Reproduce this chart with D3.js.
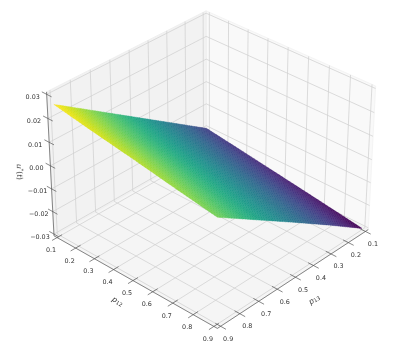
<!DOCTYPE html>
<html><head><meta charset="utf-8">
<style>html,body{margin:0;padding:0;background:#fff}svg{display:block}text{font-family:"DejaVu Sans",sans-serif;fill:#333}.txt{filter:grayscale(1)}</style>
<script src="https://cdn.jsdelivr.net/npm/d3@7"></script></head>
<body><svg id="c" width="396" height="348"></svg>
<script>
const p12Ticks=[0.1,0.2,0.3,0.4,0.5,0.6,0.7,0.8,0.9];
const p13Ticks=[0.1,0.2,0.3,0.4,0.5,0.6,0.7,0.8,0.9];
const zTicks=[-0.03,-0.02,-0.01,0,0.01,0.02,0.03];
const gridP12=[0.1,0.3,0.5,0.7,0.9];
const gridP13=[0.1,0.3,0.5,0.7,0.9];
const gridZ=[
 [-0.0198,-0.0084,0.0030,0.0144,0.0258],
 [-0.0223,-0.0111,0.0001,0.0112,0.0228],
 [-0.0249,-0.0138,-0.0024,0.0087,0.0200],
 [-0.0275,-0.0163,-0.0051,0.0060,0.0170],
 [-0.0302,-0.0188,-0.0077,0.0032,0.0141]];

const elev=32.6*Math.PI/180, azim=43*Math.PI/180, dist=10;
const bx=1.143, bz=0.857;
const sx=d3.scaleLinear().domain([0.0833,0.9167]).range([0,bx]);
const sy=d3.scaleLinear().domain([0.0833,0.9167]).range([0,bx]);
const sz=d3.scaleLinear().domain([-0.0308,0.0310]).range([0,bz]);
const px=d3.scaleLinear().domain([0,1]).range([211.5,211.5+1990]);
const py=d3.scaleLinear().domain([0,1]).range([162.5,162.5-1990]);
const u=[-Math.sin(azim),Math.cos(azim),0];
const v=[-Math.sin(elev)*Math.cos(azim),-Math.sin(elev)*Math.sin(azim),Math.cos(elev)];
const w=[Math.cos(elev)*Math.cos(azim),Math.cos(elev)*Math.sin(azim),Math.sin(elev)];
const dot=(a,b)=>a[0]*b[0]+a[1]*b[1]+a[2]*b[2];
function proj(p13,p12,z,dOffX=0,dOffY=0){
  const q=[sx(p13)+dOffX-bx/2,sy(p12)+dOffY-bx/2,sz(z)-bz/2];
  const k=dist-dot(q,w);
  return [px(dot(q,u)/k),py(dot(q,v)/k)];
}
const [xa,xb]=sx.domain(),[ya,yb]=sy.domain(),[za,zb]=sz.domain();
const svg=d3.select("#c");
const line=d3.line();
const poly=pts=>line(pts)+"Z";

// panes
const panes=[
 {c:"#f9f9f9",e:"#f4f4f4",pts:[[xa,yb,za],[xa,ya,za],[xa,ya,zb],[xa,yb,zb]]},
 {c:"#f2f2f2",e:"#efefef",pts:[[xb,ya,za],[xa,ya,za],[xa,ya,zb],[xb,ya,zb]]},
 {c:"#f5f5f5",e:"#f0f0f0",pts:[[xa,ya,za],[xb,ya,za],[xb,yb,za],[xa,yb,za]]}];
svg.append("g").selectAll("path").data(panes).join("path")
  .attr("d",d=>poly(d.pts.map(p=>proj(...p)))).attr("fill",d=>d.c).attr("stroke",d=>d.e).attr("stroke-width",1);

// grid
const G=svg.append("g").attr("fill","none").attr("stroke","#d0d0d0").attr("stroke-width",0.75);
p13Ticks.forEach(t=>G.append("path").attr("d",line([[t,yb,za],[t,ya,za],[t,ya,zb]].map(p=>proj(...p)))));
p12Ticks.forEach(t=>G.append("path").attr("d",line([[xb,t,za],[xa,t,za],[xa,t,zb]].map(p=>proj(...p)))));
zTicks.forEach(t=>G.append("path").attr("d",line([[xb,ya,t],[xa,ya,t],[xa,yb,t]].map(p=>proj(...p)))));

// axes
const A=svg.append("g").attr("fill","none").attr("stroke","#555").attr("stroke-width",0.7);
A.append("path").attr("d",line([[xb,ya,zb],[xb,ya,za],[xb,yb,za],[xa,yb,za]].map(p=>proj(...p))));
const tick=.035;
p12Ticks.forEach(t=>A.append("path").attr("d",line([proj(xb,t,za,-tick,0),proj(xb,t,za,tick,0)])));
p13Ticks.forEach(t=>A.append("path").attr("d",line([proj(t,yb,za,0,-tick),proj(t,yb,za,0,tick)])));
zTicks.forEach(t=>A.append("path").attr("d",line([proj(xb,ya,t,0,-tick),proj(xb,ya,t,0,tick)])));

// surface
const n=56;
const gi12=d3.scaleLinear().domain(gridP12).range(d3.range(gridP12.length));
const gi13=d3.scaleLinear().domain(gridP13).range(d3.range(gridP13.length));
function zAt(a,b){
  const i=Math.min(Math.floor(gi12(a)),gridP12.length-2), j=Math.min(Math.floor(gi13(b)),gridP13.length-2);
  const f=gi12(a)-i, g=gi13(b)-j;
  return d3.interpolate(d3.interpolate(gridZ[i][j],gridZ[i][j+1])(g),d3.interpolate(gridZ[i+1][j],gridZ[i+1][j+1])(g))(f);
}
const color=d3.scaleSequential(d3.interpolateViridis).domain(d3.extent(gridZ.flat()));
const step12=d3.scaleLinear().domain([0,n]).range(d3.extent(gridP12));
const step13=d3.scaleLinear().domain([0,n]).range(d3.extent(gridP13));
const cells=[];
for(let i=0;i<n;i++)for(let j=0;j<n;j++){
  const a0=step12(i),a1=step12(i+1),b0=step13(j),b1=step13(j+1);
  const c=[[a0,b0],[a1,b0],[a1,b1],[a0,b1]].map(([a,b])=>proj(b,a,zAt(a,b)));
  cells.push({c,z:(zAt(a0,b0)+zAt(a1,b1))/2});
}
svg.append("g").selectAll("path").data(cells).join("path").attr("d",d=>poly(d.c))
  .attr("fill",d=>color(d.z)).attr("stroke",d=>color(d.z)).attr("stroke-width",0.35);

// tick labels
const T=svg.append("g").attr("class","txt").attr("font-size",6.4).attr("text-anchor","middle").attr("dominant-baseline","central");
p12Ticks.forEach(t=>{const p=proj(xb,t,za);T.append("text").attr("x",p[0]-6).attr("y",p[1]+12.5).text(d3.format(".1f")(t));});
p13Ticks.forEach(t=>{const p=proj(t,yb,za);T.append("text").attr("x",p[0]+7.5).attr("y",p[1]+12.5).text(d3.format(".1f")(t));});
zTicks.forEach(t=>{const p=proj(xb,ya,t);T.append("text").attr("x",p[0]-14).attr("y",p[1]+2.5).text(d3.format(".2f")(t).replace("-","\u2212"));});

// axis labels
const L=svg.append("g").attr("class","txt");
function mathLabel(x,y,rot,main,sub){
  const g=L.append("text").attr("transform",`translate(${x},${y}) rotate(${rot})`).attr("text-anchor","middle").attr("dominant-baseline","central").attr("font-size",7.5);
  g.append("tspan").attr("font-style","italic").text(main);
  g.append("tspan").attr("font-size",5.3).attr("dy",1.5).text(sub);
}
mathLabel(118,301,31,"p","12");
mathLabel(314,299,-33,"p","13");
const zl=L.append("text").attr("transform","translate(20,172) rotate(88)").attr("text-anchor","middle").attr("dominant-baseline","central").attr("font-size",7.5);
zl.append("tspan").attr("font-style","italic").text("u");
zl.append("tspan").attr("font-size",5).attr("dy",-2).text("*");
zl.append("tspan").attr("dy",2).text("(");
zl.append("tspan").attr("font-style","italic").text("t");
zl.append("tspan").text(")");
</script></body></html>
